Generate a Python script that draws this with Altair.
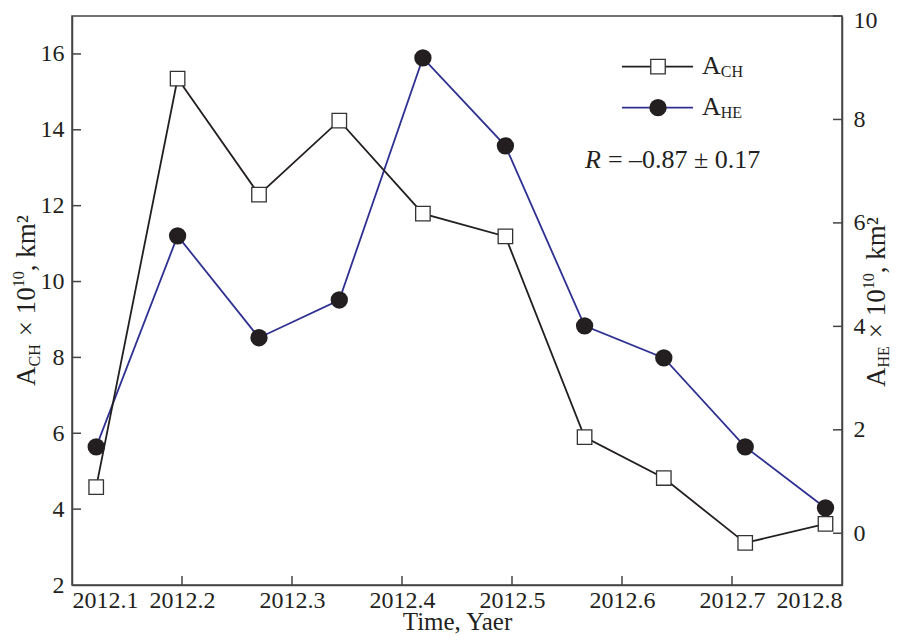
import altair as alt
import pandas as pd

# ---- data ----
time = [2012.122, 2012.196, 2012.270, 2012.343, 2012.419, 2012.494, 2012.566, 2012.638, 2012.712, 2012.785]
a_ch = [4.58, 15.35, 12.29, 14.24, 11.79, 11.19, 5.90, 4.82, 3.11, 3.61]
a_he = [1.67, 5.75, 3.78, 4.51, 9.19, 7.49, 4.01, 3.39, 1.67, 0.49]
x_ticks = [2012.1, 2012.2, 2012.3, 2012.4, 2012.5, 2012.6, 2012.7, 2012.8]
left_ticks = [2, 4, 6, 8, 10, 12, 14, 16]
right_ticks = [0, 2, 4, 6, 8, 10]
series_names = ["CH", "HE"]
title_parts = ["\u00d7\u00a010", "10", ",\u00a0km\u00b2"]
r_label = ["R", "=\u00a0\u20130.87\u00a0\u00b1\u00a00.17"]

FONT = "Liberation Serif"
INK = "#231f20"
BLUE = "#2e3192"
FRAME = "#444444"
W, H = 770, 569
TS = 26   # legend font size
VS = 27   # vertical title font size
SS = 16   # sub/superscript size

df = pd.DataFrame({"t": time, "a_ch": a_ch, "a_he": a_he})

x_scale = alt.Scale(domain=[2012.1, 2012.8], nice=False, zero=False)
x_axis = alt.Axis(values=x_ticks, format=".1f", title="Time, Yaer", labelPadding=3,
                  titlePadding=-3, titleFontSize=25)
ch_scale = alt.Scale(domain=[2, 17], nice=False, zero=False)
ch_axis = alt.Axis(values=left_ticks, title=None, orient="left", labelPadding=8)
he_scale = alt.Scale(domain=[-1, 10], nice=False, zero=False)
he_axis = alt.Axis(values=right_ticks, title=None, orient="right", labelPadding=11,
                   labelOffset={"condition": {"test": "datum.value == 10", "value": 4}, "value": 0})

X = alt.X("t:Q", scale=x_scale, axis=x_axis)
Ych = alt.Y("a_ch:Q", scale=ch_scale, axis=ch_axis)
Yhe = alt.Y("a_he:Q", scale=he_scale, axis=he_axis)

# ---- A_HE group (right axis) ----
he_line = alt.Chart(df).mark_line(color=BLUE, strokeWidth=1.8).encode(x=X, y=Yhe)
he_pts = alt.Chart(df).mark_circle(size=300, color=INK, opacity=1).encode(x=X, y=Yhe)
he_ticks = alt.Chart(pd.DataFrame({"a_he": right_ticks})).mark_rule(
    color=FRAME, strokeWidth=1.5).encode(y=Yhe, x=alt.value(W - 9), x2=alt.value(W))
he_group = alt.layer(he_line, he_pts, he_ticks)

# ---- A_CH group (left axis) ----
ch_line = alt.Chart(df).mark_line(color=INK, strokeWidth=1.8).encode(x=X, y=Ych)
ch_pts = alt.Chart(df).mark_square(size=210, color="white", stroke="#333333",
                                   strokeWidth=1.3, opacity=1).encode(x=X, y=Ych)
ch_ticks = alt.Chart(pd.DataFrame({"a_ch": left_ticks[1:]})).mark_rule(
    color=FRAME, strokeWidth=1.5).encode(y=Ych, x=alt.value(0), x2=alt.value(9))
x_tick_rules = alt.Chart(pd.DataFrame({"t": x_ticks[1:-1]})).mark_rule(
    color=FRAME, strokeWidth=1.5).encode(x=X, y=alt.value(H), y2=alt.value(H - 9))
ch_group = alt.layer(ch_line, ch_pts, ch_ticks, x_tick_rules)

# ---- text helpers ----
EM = {"A": .722, "C": .667, "H": .722, "E": .611, "R": .611, "\u00d7": .564, "\u00a0": .25,
      ",": .25, "k": .5, "m": .778, "\u00b2": .3}


def tw(s, size):
    return sum(EM.get(c, .5) for c in s) * size


def piece(text, x, y, size, angle=0, italic=False):
    kw = dict(text=text, font=FONT, fontSize=size, color=INK, align="left", baseline="alphabetic")
    if angle:
        kw["angle"] = angle
    if italic:
        kw["fontStyle"] = "italic"
    return alt.Chart(pd.DataFrame({"k": [0]})).mark_text(**kw).encode(x=alt.value(x), y=alt.value(y))


def vertical_title(sub, bx, by, sub_shift=5):
    out = [piece("A", bx, by, VS, angle=270)]
    y = by - tw("A", VS)
    out.append(piece(sub, bx + sub_shift, y, SS, angle=270))
    y -= tw(sub, SS) + 8
    out.append(piece(title_parts[0], bx, y, VS, angle=270))
    y -= tw(title_parts[0], VS)
    out.append(piece(title_parts[1], bx - 11, y, SS, angle=270))
    y -= tw(title_parts[1], SS)
    out.append(piece(title_parts[2], bx, y, VS, angle=270))
    return out


texts = []
texts += vertical_title(series_names[0], -37, 370)
texts += vertical_title(series_names[1], 813, 371, sub_shift=4)

# legend
LX0, LX1, LXM = 550, 621, 586
texts.append(alt.Chart(pd.DataFrame({"k": [0]})).mark_rule(color=INK, strokeWidth=1.8).encode(
    x=alt.value(LX0), x2=alt.value(LX1), y=alt.value(50.7)))
texts.append(alt.Chart(pd.DataFrame({"k": [0]})).mark_square(
    size=210, color="white", stroke="#333333", strokeWidth=1.3, opacity=1).encode(
    x=alt.value(LXM), y=alt.value(50.7)))
texts.append(alt.Chart(pd.DataFrame({"k": [0]})).mark_rule(color=BLUE, strokeWidth=1.8).encode(
    x=alt.value(LX0), x2=alt.value(LX1), y=alt.value(91.7)))
texts.append(alt.Chart(pd.DataFrame({"k": [0]})).mark_circle(size=300, color=INK, opacity=1).encode(
    x=alt.value(LXM), y=alt.value(91.7)))
TX = 630
texts.append(piece("A", TX, 58, TS))
texts.append(piece(series_names[0], TX + tw("A", TS), 61, SS))
texts.append(piece("A", TX, 99, TS))
texts.append(piece(series_names[1], TX + tw("A", TS), 102, SS))
RX = 513
texts.append(piece(r_label[0], RX, 152, TS, italic=True))
texts.append(piece(r_label[1], RX + tw("R", TS) + 7, 152, TS))

chart = alt.layer(he_group, ch_group).resolve_scale(y="independent")
chart = alt.layer(chart, *texts).properties(
    width=W, height=H,
    padding={"left": 64, "top": 8, "right": 49, "bottom": 49},
    autosize=alt.AutoSizeParams(type="none"),
).configure_axis(
    labelFont=FONT, titleFont=FONT, labelFontSize=24, titleFontSize=TS,
    labelColor=INK, titleColor=INK, titleFontWeight="normal",
    domainColor=FRAME, domainWidth=1.5, ticks=False, grid=False,
).configure_view(stroke=FRAME, strokeWidth=1.5)

chart.save("out.html", embed_options={"renderer": "svg", "actions": False})
